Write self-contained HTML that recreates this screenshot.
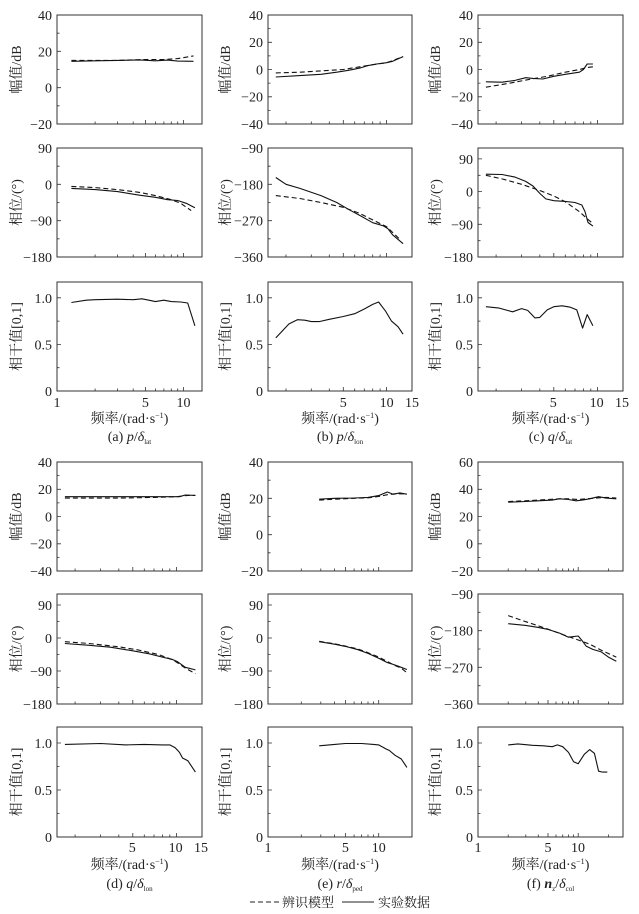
<!DOCTYPE html>
<html><head><meta charset="utf-8">
<style>
html,body{margin:0;padding:0;background:#fff;}
svg{display:block;font-family:"Liberation Serif","Times New Roman","Noto Serif CJK SC",serif;}
text{font-family:"Liberation Serif","Times New Roman","Noto Serif CJK SC",serif;fill:#222;}
.t{font-size:14px;text-anchor:end;}
.b{font-size:14px;text-anchor:middle;}
.yt{font-size:14px;text-anchor:middle;}
.c{font-size:14px;text-anchor:middle;}
</style></head>
<body>
<svg id="s" width="639" height="914" viewBox="0 0 639 914" xmlns="http://www.w3.org/2000/svg" font-family="Liberation Serif, Noto Serif CJK SC, serif">
<g id="g"></g>
<text class="t" x="52" y="20">40</text><text class="t" x="52" y="56.3">20</text><text class="t" x="52" y="92.7">0</text><text class="t" x="52" y="129">−20</text>
<text class="t" x="52" y="153">90</text><text class="t" x="52" y="189.3">0</text><text class="t" x="52" y="225.7">−90</text><text class="t" x="52" y="262">−180</text>
<text class="t" x="52" y="302.8">1.0</text><text class="t" x="52" y="349.4">0.5</text><text class="t" x="52" y="396">0</text>
<text class="t" x="263" y="20">40</text><text class="t" x="263" y="47.2">20</text><text class="t" x="263" y="74.5">0</text><text class="t" x="263" y="101.7">−20</text><text class="t" x="263" y="129">−40</text>
<text class="t" x="263" y="153">−90</text><text class="t" x="263" y="189.3">−180</text><text class="t" x="263" y="225.7">−270</text><text class="t" x="263" y="262">−360</text>
<text class="t" x="263" y="302.8">1.0</text><text class="t" x="263" y="349.4">0.5</text><text class="t" x="263" y="396">0</text>
<text class="t" x="473" y="20">40</text><text class="t" x="473" y="47.2">20</text><text class="t" x="473" y="74.5">0</text><text class="t" x="473" y="101.7">−20</text><text class="t" x="473" y="129">−40</text>
<text class="t" x="473" y="163.9">90</text><text class="t" x="473" y="196.6">0</text><text class="t" x="473" y="229.3">−90</text><text class="t" x="473" y="262">−180</text>
<text class="t" x="473" y="302.8">1.0</text><text class="t" x="473" y="349.4">0.5</text><text class="t" x="473" y="396">0</text>
<text class="t" x="52" y="467">40</text><text class="t" x="52" y="494.2">20</text><text class="t" x="52" y="521.5">0</text><text class="t" x="52" y="548.7">−20</text><text class="t" x="52" y="576">−40</text>
<text class="t" x="52" y="610">90</text><text class="t" x="52" y="643">0</text><text class="t" x="52" y="676">−90</text><text class="t" x="52" y="709">−180</text>
<text class="t" x="52" y="748">1.0</text><text class="t" x="52" y="795">0.5</text><text class="t" x="52" y="842">0</text>
<text class="t" x="263" y="467">40</text><text class="t" x="263" y="503.3">20</text><text class="t" x="263" y="539.7">0</text><text class="t" x="263" y="576">−20</text>
<text class="t" x="263" y="610">90</text><text class="t" x="263" y="643">0</text><text class="t" x="263" y="676">−90</text><text class="t" x="263" y="709">−180</text>
<text class="t" x="263" y="748">1.0</text><text class="t" x="263" y="795">0.5</text><text class="t" x="263" y="842">0</text>
<text class="t" x="473" y="467">60</text><text class="t" x="473" y="494.2">40</text><text class="t" x="473" y="521.5">20</text><text class="t" x="473" y="548.7">0</text><text class="t" x="473" y="576">−20</text>
<text class="t" x="473" y="599">−90</text><text class="t" x="473" y="635.7">−180</text><text class="t" x="473" y="672.3">−270</text><text class="t" x="473" y="709">−360</text>
<text class="t" x="473" y="748">1.0</text><text class="t" x="473" y="795">0.5</text><text class="t" x="473" y="842">0</text>

<text class="b" x="57" y="407">1</text><text class="b" x="145.4" y="407">5</text><text class="b" x="183.5" y="407">10</text>
<text class="b" x="343.3" y="407">5</text><text class="b" x="386.6" y="407">10</text><text class="b" x="412" y="407">15</text>
<text class="b" x="553.3" y="407">5</text><text class="b" x="596.6" y="407">10</text><text class="b" x="622" y="407">15</text>
<text class="b" x="132.3" y="852">5</text><text class="b" x="175.6" y="852">10</text><text class="b" x="201" y="852">15</text>
<text class="b" x="268" y="852">1</text><text class="b" x="345.4" y="852">5</text><text class="b" x="378.7" y="852">10</text>
<text class="b" x="478" y="852">1</text><text class="b" x="548" y="852">5</text><text class="b" x="578" y="852">10</text>

<text class="c" x="129.5" y="423">频率/(rad·s<tspan font-size="8" dy="-5">−1</tspan><tspan dy="5">)</tspan></text>
<text class="c" x="340" y="423">频率/(rad·s<tspan font-size="8" dy="-5">−1</tspan><tspan dy="5">)</tspan></text>
<text class="c" x="550.5" y="423">频率/(rad·s<tspan font-size="8" dy="-5">−1</tspan><tspan dy="5">)</tspan></text>
<text class="c" x="129.5" y="869">频率/(rad·s<tspan font-size="8" dy="-5">−1</tspan><tspan dy="5">)</tspan></text>
<text class="c" x="340" y="869">频率/(rad·s<tspan font-size="8" dy="-5">−1</tspan><tspan dy="5">)</tspan></text>
<text class="c" x="550.5" y="869">频率/(rad·s<tspan font-size="8" dy="-5">−1</tspan><tspan dy="5">)</tspan></text>

<text class="c" x="129.5" y="441">(a) <tspan font-style="italic">p</tspan>/<tspan font-style="italic">δ</tspan><tspan font-size="7" dy="3">lat</tspan></text>
<text class="c" x="340" y="441">(b) <tspan font-style="italic">p</tspan>/<tspan font-style="italic">δ</tspan><tspan font-size="7" dy="3">lon</tspan></text>
<text class="c" x="550.5" y="441">(c) <tspan font-style="italic">q</tspan>/<tspan font-style="italic">δ</tspan><tspan font-size="7" dy="3">lat</tspan></text>
<text class="c" x="129.5" y="888">(d) <tspan font-style="italic">q</tspan>/<tspan font-style="italic">δ</tspan><tspan font-size="7" dy="3">lon</tspan></text>
<text class="c" x="340" y="888">(e) <tspan font-style="italic">r</tspan>/<tspan font-style="italic">δ</tspan><tspan font-size="7" dy="3">ped</tspan></text>
<text class="c" x="550.5" y="888">(f) <tspan font-style="italic" font-weight="bold">n</tspan><tspan font-size="7" dy="3">z</tspan><tspan dy="-3">/</tspan><tspan font-style="italic">δ</tspan><tspan font-size="7" dy="3">col</tspan></text>

<text class="yt" transform="translate(21,69.5) rotate(-90)">幅值/dB</text>
<text class="yt" transform="translate(21,202.5) rotate(-90)">相位/(°)</text>
<text class="yt" transform="translate(21,336.5) rotate(-90)">相干值[0,1]</text>
<text class="yt" transform="translate(230,69.5) rotate(-90)">幅值/dB</text>
<text class="yt" transform="translate(230,202.5) rotate(-90)">相位/(°)</text>
<text class="yt" transform="translate(230,336.5) rotate(-90)">相干值[0,1]</text>
<text class="yt" transform="translate(440,69.5) rotate(-90)">幅值/dB</text>
<text class="yt" transform="translate(440,202.5) rotate(-90)">相位/(°)</text>
<text class="yt" transform="translate(440,336.5) rotate(-90)">相干值[0,1]</text>
<text class="yt" transform="translate(21,516.5) rotate(-90)">幅值/dB</text>
<text class="yt" transform="translate(21,649) rotate(-90)">相位/(°)</text>
<text class="yt" transform="translate(21,782) rotate(-90)">相干值[0,1]</text>
<text class="yt" transform="translate(230,516.5) rotate(-90)">幅值/dB</text>
<text class="yt" transform="translate(230,649) rotate(-90)">相位/(°)</text>
<text class="yt" transform="translate(230,782) rotate(-90)">相干值[0,1]</text>
<text class="yt" transform="translate(440,516.5) rotate(-90)">幅值/dB</text>
<text class="yt" transform="translate(440,649) rotate(-90)">相位/(°)</text>
<text class="yt" transform="translate(440,782) rotate(-90)">相干值[0,1]</text>

<line x1="250" y1="902" x2="279" y2="902" stroke="#222" stroke-width="1" stroke-dasharray="5,3"/>
<text x="282" y="907" font-size="13">辨识模型</text>
<line x1="342" y1="902" x2="374" y2="902" stroke="#222" stroke-width="1"/>
<text x="378" y="907" font-size="13">实验数据</text>
</svg>
<script>
var NS="http://www.w3.org/2000/svg",G=document.getElementById("g");
function el(n,a){var e=document.createElementNS(NS,n);for(var k in a)e.setAttribute(k,a[k]);G.appendChild(e);return e;}
var cols=[[57,202],[268,412],[478,623]];
var rowsT=[[15,124],[148,257],[282,391]],rowsB=[[462,571],[594,704],[727,837]];
var COH=[0,1.17,0.5,0.25];
var P=[
{c:0,r:rowsT[0],xl:[1,14],y:[-20,40,20,10],
 s:[[1.3,14.5],[2,14.8],[3,15],[4.5,15.3],[6,14.8],[7.5,15.2],[9,14.6],[12,14.5]],
 d:[[1.3,15],[3,15],[5,15.5],[7,15.5],[9,16],[12,17.5]]},
{c:0,r:rowsT[1],xl:[1,14],y:[-180,90,90,45],
 s:[[1.3,-10],[2,-13],[3,-18],[4.5,-27],[6,-32],[7.5,-38],[9,-40],[10.5,-47],[12.3,-58]],
 d:[[1.3,-5],[2,-8],[3,-13],[4.5,-20],[6,-28],[8,-38],[9.5,-47],[11.5,-65]]},
{c:0,r:rowsT[2],xl:[1,14],y:COH,
 s:[[1.3,0.95],[1.7,0.975],[2,0.98],[3,0.985],[4,0.98],[4.7,0.99],[5.5,0.97],[6,0.96],[7,0.975],[8,0.96],[9.5,0.955],[10.8,0.945],[12.3,0.7]]},
{c:1,r:rowsT[0],xl:[1.5,15],y:[-40,40,20,10],
 s:[[1.7,-5.5],[2.5,-4.5],[3.5,-3.5],[4.5,-2],[5.5,-0.5],[6.5,1],[7.5,3],[8.5,4],[10,5],[11,6],[13,9.5]],
 d:[[1.7,-2.5],[2.5,-2],[3.5,-1],[5,0],[6.5,2],[8,3.5],[10,5],[11,6.5],[13,9.5]]},
{c:1,r:rowsT[1],xl:[1.5,15],y:[-360,-90,90,45],
 s:[[1.7,-163],[2,-180],[2.5,-190],[3.5,-208],[4.5,-225],[5.5,-243],[6.5,-257],[8,-275],[9.5,-283],[10.2,-290],[11,-305],[13,-327]],
 d:[[1.7,-208],[2.5,-215],[3.5,-225],[5,-237],[6.5,-252],[8,-268],[10,-285],[12.5,-318]]},
{c:1,r:rowsT[2],xl:[1.5,15],y:COH,
 s:[[1.7,0.57],[2.1,0.72],[2.4,0.765],[2.7,0.76],[3,0.745],[3.4,0.745],[4,0.77],[5,0.8],[6,0.83],[7,0.88],[8,0.93],[8.8,0.955],[9.8,0.86],[10.8,0.75],[12,0.69],[13,0.61]]},
{c:2,r:rowsT[0],xl:[1.5,15],y:[-40,40,20,10],
 s:[[1.7,-9],[2.2,-9.3],[2.7,-8],[3.2,-6],[3.6,-6.5],[4.2,-7],[5,-5],[6,-3.5],[7.5,-2],[8,0],[8.5,4],[9.3,4]],
 d:[[1.7,-13],[2.5,-10],[3.5,-7],[4.5,-5],[6,-2],[7.5,0],[8.5,1.5],[9.3,2]]},
{c:2,r:rowsT[1],xl:[1.5,15],y:[-180,120,90,45],
 s:[[1.7,48],[2.2,47],[2.7,40],[3.2,28],[3.6,15],[4,-5],[4.4,-20],[5,-25],[6,-27],[7,-30],[7.8,-37],[8.2,-55],[8.6,-85],[9.3,-95]],
 d:[[1.7,45],[2.2,35],[3,20],[4,3],[5,-12],[6,-28],[7.5,-55],[8.5,-75],[9.3,-88]]},
{c:2,r:rowsT[2],xl:[1.5,15],y:COH,
 s:[[1.7,0.905],[2.1,0.89],[2.6,0.85],[3,0.885],[3.3,0.865],[3.7,0.785],[4,0.79],[4.5,0.87],[5,0.905],[5.7,0.915],[6.5,0.9],[7.2,0.87],[7.9,0.675],[8.5,0.82],[9.3,0.7]]},
{c:0,r:rowsB[0],xl:[1.5,15],y:[-40,40,20,10],
 s:[[1.7,14.5],[4,14.5],[7,14.5],[10.5,14.5],[11.5,15.8],[13.5,15.5]],
 d:[[1.7,13.5],[4,13.5],[7,14],[10,14.5],[12,15.5],[13.5,15.5]]},
{c:0,r:rowsB[1],xl:[1.5,15],y:[-180,120,90,45],
 s:[[1.7,-15],[2.5,-20],[3.5,-25],[5,-35],[6.5,-43],[8,-52],[9.3,-58],[10.2,-65],[11.5,-80],[13.5,-87]],
 d:[[1.7,-10],[2.5,-15],[4,-24],[5.5,-33],[7.5,-45],[9.5,-60],[11.5,-82],[13.5,-97]]},
{c:0,r:rowsB[2],xl:[1.5,15],y:COH,
 s:[[1.7,0.985],[3,0.995],[4.5,0.98],[6,0.985],[8,0.98],[9,0.98],[9.8,0.95],[10.5,0.9],[11,0.84],[12,0.81],[13.5,0.69]]},
{c:1,r:rowsB[0],xl:[1,20],y:[-20,40,20,10],
 s:[[2.9,19.5],[4,20],[6,20.2],[8,20.5],[10,21.5],[12,23.5],[13.5,22.2],[15.5,23],[18,22.3]],
 d:[[2.9,19],[4,19.5],[6,20],[8,20.3],[10,21],[12,22],[14,22.5],[16,22.5],[18,22.5]]},
{c:1,r:rowsB[1],xl:[1,20],y:[-180,120,90,45],
 s:[[2.9,-10],[4,-17],[5,-23],[6.5,-32],[8,-42],[10,-55],[12,-67],[13.5,-72],[15,-77],[18,-86]],
 d:[[2.9,-9],[4,-16],[5,-22],[6.5,-30],[8,-40],[10,-52],[12,-64],[14,-75],[16,-82],[18,-95]]},
{c:1,r:rowsB[2],xl:[1,20],y:COH,
 s:[[2.9,0.97],[4,0.985],[5,0.995],[7,0.995],[9,0.985],[10,0.98],[11.5,0.94],[12.5,0.92],[14,0.87],[16,0.83],[18,0.74]]},
{c:2,r:rowsB[0],xl:[1,28],y:[-20,60,20,10],
 s:[[2,30.5],[3,31],[4,31.5],[5.5,32],[6.5,33],[8,32.5],[9.5,31.5],[11,32],[13,33],[16,34.5],[19,33.5],[24,33]],
 d:[[2,31],[3,31.5],[4,32],[5,32.5],[6.5,33],[8,33],[10,32.5],[12,33],[15,33.5],[19,34],[24,33.5]]},
{c:2,r:rowsB[1],xl:[1,28],y:[-360,-90,90,45],
 s:[[2,-163],[3,-167],[4,-172],[5,-177],[6.5,-186],[8,-196],[10,-193],[11,-205],[12,-218],[14,-226],[17,-232],[20,-245],[24,-255]],
 d:[[2,-143],[3,-158],[4,-168],[5.5,-180],[7.5,-192],[10,-203],[13,-213],[17,-228],[24,-245]]},
{c:2,r:rowsB[2],xl:[1,28],y:COH,
 s:[[2,0.98],[2.5,0.99],[3.5,0.975],[4.5,0.97],[5.5,0.96],[6.2,0.98],[7,0.96],[8,0.9],[9,0.8],[10,0.78],[11.5,0.88],[13,0.93],[14.5,0.89],[16,0.7],[17.5,0.69],[19.5,0.69]]}
];
P.forEach(function(p){
 var x0=cols[p.c][0],x1=cols[p.c][1],y0=p.r[0],y1=p.r[1];
 var lx0=Math.log10(p.xl[0]),lx1=Math.log10(p.xl[1]);
 function X(f){return x0+(Math.log10(f)-lx0)/(lx1-lx0)*(x1-x0);}
 function Y(v){return y1-(v-p.y[0])/(p.y[1]-p.y[0])*(y1-y0);}
 var d="";
 [1,2,3,4,5,6,7,8,9,10,20,30].forEach(function(f){
  if(f<p.xl[0]-1e-6||f>p.xl[1]+1e-6)return;
  var x=X(f).toFixed(1),L=(f==1||f==5||f==10)?4:2.5;
  d+="M"+x+","+y1+"v-"+L;
 });
 var step=p.y[3];
 for(var v=Math.ceil(p.y[0]/step)*step;v<=p.y[1]+1e-6;v+=step){
  var maj=Math.abs((v-p.y[0])/p.y[2]-Math.round((v-p.y[0])/p.y[2]))<1e-6;
  d+="M"+x0+","+Y(v).toFixed(1)+"h"+(maj?4:2.5);
 }
 el("path",{d:d,stroke:"#333","stroke-width":"0.8",fill:"none"});
 el("rect",{x:x0,y:y0,width:x1-x0,height:y1-y0,fill:"none",stroke:"#333","stroke-width":"1"});
 function line(a,dash){
  var s=a.map(function(q,i){return (i?"L":"M")+X(q[0]).toFixed(1)+","+Y(q[1]).toFixed(1);}).join("");
  var o={d:s,fill:"none",stroke:"#111","stroke-width":"1.1","stroke-linejoin":"round"};
  if(dash)o["stroke-dasharray"]="5,3";
  el("path",o);
 }
 if(p.d)line(p.d,true);
 line(p.s,false);
});
</script>
</body></html>
